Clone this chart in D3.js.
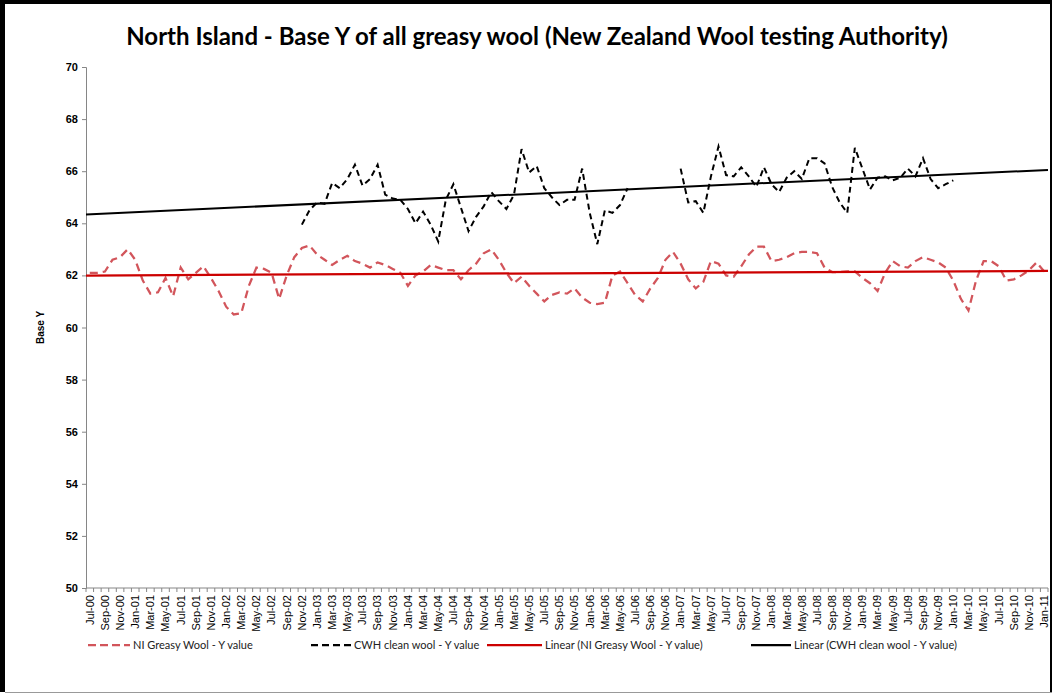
<!DOCTYPE html>
<html>
<head>
<meta charset="utf-8">
<script src="https://cdn.jsdelivr.net/npm/d3@7/dist/d3.min.js"></script>
<style>
  body { margin: 0; background: #fff; }
  svg { display: block; }
</style>
</head>
<body>
<div id="chart"></div>
<script>
// categories: monthly, Jul-00 .. Jan-11
var fmt = d3.timeFormat("%b-%y");
var categories = d3.timeMonth.range(new Date(2000, 6, 1), new Date(2011, 1, 1)).map(fmt);

// NI Greasy Wool - Y value
var niGreasy = [
  62.1, 62.1, 62.15, 62.6, 62.7, 63.0, 62.6, 61.8, 61.3, 61.35, 61.9, 61.2,
  62.3, 61.85, 62.1, 62.35, 61.9, 61.4, 60.8, 60.5, 60.55, 61.6, 62.3, 62.25,
  62.1, 61.1, 62.0, 62.7, 63.05, 63.15, 62.8, 62.6, 62.4, 62.6, 62.75, 62.55,
  62.45, 62.3, 62.5, 62.4, 62.25, 62.1, 61.6, 62.0, 62.15, 62.4, 62.3, 62.2,
  62.2, 61.85, 62.2, 62.45, 62.85, 63.0, 62.6, 62.1, 61.7, 61.95, 61.6, 61.3,
  61.0, 61.25, 61.35, 61.3, 61.5, 61.15, 60.95, 60.9, 60.95, 62.0, 62.15, 61.7,
  61.25, 61.0, 61.5, 61.9, 62.6, 62.9, 62.45, 61.85, 61.5, 61.75, 62.55, 62.45,
  62.0, 61.95, 62.35, 62.8, 63.1, 63.1, 62.55, 62.6, 62.7, 62.85, 62.9, 62.9,
  62.85, 62.3, 62.13, 62.13, 62.15, 62.15, 61.9, 61.7, 61.4, 62.1, 62.55, 62.35,
  62.3, 62.55, 62.7, 62.6, 62.5, 62.3, 61.8, 61.1, 60.65, 61.8, 62.55, 62.55,
  62.35, 61.8, 61.85, 62.0, 62.2, 62.5, 62.15
];

// CWH clean wool - Y value (null = no reading)
var cwhClean = [
  null, null, null, null, null, null, null, null, null, null, null, null,
  null, null, null, null, null, null, null, null, null, null, null, null,
  null, null, null, null, 63.95, 64.5, 64.8, 64.75, 65.55, 65.35, 65.7, 66.25,
  65.45, 65.7, 66.25, 65.1, 64.95, 64.9, 64.55, 64.0, 64.45, 63.95, 63.3, 64.9,
  65.5, 64.6, 63.7, 64.25, 64.65, 65.2, 64.85, 64.55, 65.1, 66.85, 65.95, 66.2,
  65.35, 65.0, 64.7, 64.9, 64.9, 66.1, 64.4, 63.2, 64.5, 64.4, 64.7, 65.35,
  null, null, null, null, null, null, 66.1, 64.8, 64.85, 64.4, 65.8, 66.95,
  65.85, 65.8, 66.15, 65.8, 65.4, 66.15, 65.5, 65.2, 65.75, 66.0, 65.7, 66.5,
  66.5, 66.3, 65.4, 64.8, 64.4, 66.9, 66.1, 65.3, 65.75, 65.8, 65.65, 65.75,
  66.1, 65.8, 66.5, 65.7, 65.35, 65.5, 65.65, null, null, null, null, null,
  null, null, null, null, null, null, null
];

var yTicks = [50, 52, 54, 56, 58, 60, 62, 64, 66, 68, 70];

var width = 1058, height = 697;
var plot = { left: 86, right: 1048, top: 67, bottom: 588 };

var svg = d3.select("#chart").append("svg")
    .attr("width", width)
    .attr("height", height);

svg.append("rect").attr("width", width).attr("height", height).attr("fill", "#fff");

// frame: heavy black top/left, thin right, grey bottom
svg.append("rect").attr("x", 0).attr("y", 0).attr("width", 1052).attr("height", 4).attr("fill", "#000");
svg.append("rect").attr("x", 0).attr("y", 0).attr("width", 5).attr("height", 692).attr("fill", "#000");
svg.append("line").attr("x1", 1051).attr("x2", 1051).attr("y1", 0).attr("y2", 692)
    .attr("stroke", "#000").attr("stroke-width", 2);
svg.append("line").attr("x1", 5).attr("x2", 1052).attr("y1", 692.5).attr("y2", 692.5)
    .attr("stroke", "#999").attr("stroke-width", 1);

var x = d3.scaleBand().domain(categories).range([plot.left, plot.right]).padding(0);
var cx = function (d) { return x(d) + x.bandwidth() / 2; };
var y = d3.scaleLinear().domain([50, 70]).range([plot.bottom, plot.top]);

// title
svg.append("text")
    .attr("x", 537).attr("y", 45)
    .attr("text-anchor", "middle")
    .style("font-family", "Lato, 'Open Sans', sans-serif")
    .style("font-weight", "bold")
    .style("font-size", "24px")
    .text("North Island - Base Y of all greasy wool (New Zealand Wool testing Authority)");

// y axis
var yAxis = svg.append("g")
    .attr("transform", "translate(" + plot.left + ",0)")
    .call(d3.axisLeft(y).tickValues(yTicks).tickSize(4).tickPadding(4));
yAxis.selectAll("path, line").attr("stroke", "#868686");
yAxis.selectAll("text")
    .style("font-family", "'Liberation Sans Narrow', 'Arial Narrow', sans-serif")
    .style("font-weight", "bold")
    .style("font-size", "11px")
    .attr("fill", "#000");

svg.append("text")
    .attr("transform", "translate(44," + ((plot.top + plot.bottom) / 2) + ") rotate(-90)")
    .attr("text-anchor", "middle")
    .style("font-family", "'Liberation Sans', Arial, sans-serif")
    .style("font-weight", "bold")
    .style("font-size", "10px")
    .text("Base Y");

// x axis: line + a tick at every category boundary
var xg = svg.append("g").attr("transform", "translate(0," + plot.bottom + ")");
xg.append("line")
    .attr("x1", plot.left).attr("x2", plot.right)
    .attr("stroke", "#868686");
xg.selectAll(".tick")
    .data(categories.concat([null]))
    .enter().append("line")
    .attr("x1", function (d, i) { return plot.left + i * x.bandwidth(); })
    .attr("x2", function (d, i) { return plot.left + i * x.bandwidth(); })
    .attr("y1", 0).attr("y2", 4)
    .attr("stroke", "#868686");

// every second month labelled
var xLabels = svg.append("g")
    .attr("transform", "translate(0," + plot.bottom + ")")
    .call(d3.axisBottom(x).tickValues(categories.filter(function (d, i) { return i % 2 === 0; })).tickSize(0));
xLabels.select(".domain").remove();
xLabels.selectAll("text")
    .attr("transform", "rotate(-90)")
    .attr("text-anchor", "end")
    .attr("x", -7).attr("y", 0).attr("dy", "0.35em")
    .style("font-family", "'Liberation Sans', Arial, sans-serif")
    .style("font-size", "11px")
    .attr("fill", "#000");

// linear trend (least squares on category index)
function trend(values) {
  var pts = values.map(function (v, i) { return [i, v]; }).filter(function (p) { return p[1] != null; });
  var mx = d3.mean(pts, function (p) { return p[0]; }), my = d3.mean(pts, function (p) { return p[1]; });
  var b = d3.sum(pts, function (p) { return (p[0] - mx) * (p[1] - my); }) / d3.sum(pts, function (p) { return (p[0] - mx) * (p[0] - mx); });
  var a = my - b * mx;
  return [-0.5, categories.length - 0.5].map(function (i) { return [i, a + b * i]; });
}
var xi = d3.scaleLinear().domain([-0.5, categories.length - 0.5]).range([plot.left, plot.right]);
var trendLine = d3.line().x(function (d) { return xi(d[0]); }).y(function (d) { return y(d[1]); });

var valueline = d3.line()
    .defined(function (d) { return d != null; })
    .x(function (d, i) { return cx(categories[i]); })
    .y(function (d) { return y(d); });

svg.append("path")
    .datum(niGreasy)
    .attr("fill", "none")
    .attr("stroke", "#d2555b")
    .attr("stroke-width", 2.25)
    .attr("stroke-dasharray", "8,5")
    .attr("d", valueline);

svg.append("path")
    .datum(cwhClean)
    .attr("fill", "none")
    .attr("stroke", "#000")
    .attr("stroke-width", 2)
    .attr("stroke-dasharray", "6,4")
    .attr("d", valueline);

svg.append("path")
    .datum(trend(niGreasy))
    .attr("fill", "none")
    .attr("stroke", "#cc0000")
    .attr("stroke-width", 2.25)
    .attr("d", trendLine);

svg.append("path")
    .datum(trend(cwhClean))
    .attr("fill", "none")
    .attr("stroke", "#000")
    .attr("stroke-width", 2)
    .attr("d", trendLine);

// legend
var legendItems = [
  { label: "NI Greasy Wool - Y value", color: "#d2555b", dash: "8,4", x: 88, w: 42 },
  { label: "CWH clean wool - Y value", color: "#000", dash: "7,4", x: 311, w: 40 },
  { label: "Linear (NI Greasy Wool - Y value)", color: "#cc0000", dash: null, x: 487, w: 55 },
  { label: "Linear (CWH clean wool - Y value)", color: "#000", dash: null, x: 751, w: 40 }
];
var legend = svg.append("g").attr("transform", "translate(0,645)");
var li = legend.selectAll("g").data(legendItems).enter().append("g")
    .attr("transform", function (d) { return "translate(" + d.x + ",0)"; });
li.append("line")
    .attr("x1", 0).attr("x2", function (d) { return d.w; })
    .attr("stroke", function (d) { return d.color; })
    .attr("stroke-width", 2.25)
    .attr("stroke-dasharray", function (d) { return d.dash; });
li.append("text")
    .attr("x", function (d) { return d.w + 3; })
    .attr("dy", "0.35em")
    .style("font-family", "Lato, 'Open Sans', sans-serif")
    .style("font-size", "11px")
    .attr("fill", "#222")
    .text(function (d) { return d.label; });
</script>
</body>
</html>
